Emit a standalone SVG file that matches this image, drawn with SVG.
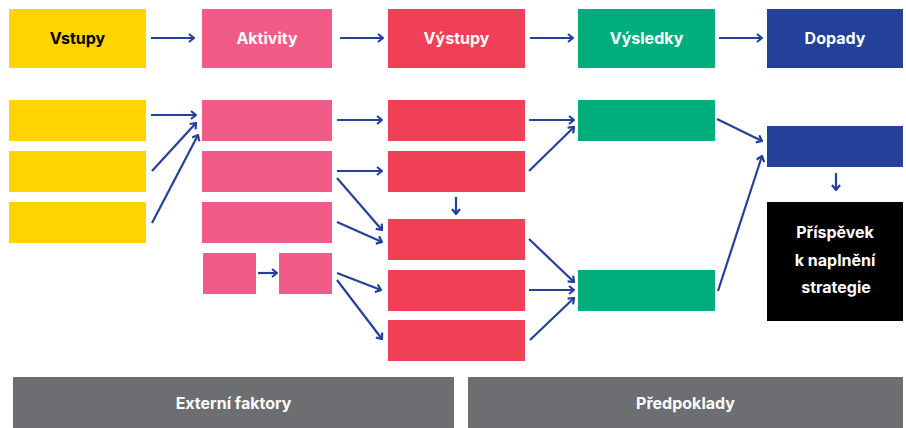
<svg xmlns="http://www.w3.org/2000/svg" width="906" height="428" viewBox="0 0 906 428">
<style>
.t{font-family:Inter,"Open Sans","Liberation Sans",sans-serif;font-weight:700;font-size:16px;text-anchor:middle;fill:#fff}
.dk{fill:#000}
.y{fill:#FFD400}.p{fill:#F05B88}.r{fill:#EF4056}.g{fill:#00AE7D}.b{fill:#23409A}.k{fill:#000}.gr{fill:#6D6E71}
.c line{stroke:#23409A;stroke-width:2.2;fill:none;marker-end:url(#ah)}
</style>
<defs>
<marker id="ah" viewBox="0 0 10 10" refX="9" refY="5" markerWidth="10" markerHeight="10" markerUnits="userSpaceOnUse" orient="auto">
<path d="M4,1 L9,5 L4,9" fill="none" stroke="#23409A" stroke-width="2.2"/>
</marker>
</defs>
<g id="vstupy"><rect class="y" x="9" y="9" width="137" height="59"/><text class="t dk" x="77.5" y="44">Vstupy</text></g>
<g id="aktivity"><rect class="p" x="202" y="9" width="130" height="59"/><text class="t" x="267" y="44">Aktivity</text></g>
<g id="vystupy"><rect class="r" x="388" y="9" width="137" height="59"/><text class="t" x="456.5" y="44">Výstupy</text></g>
<g id="vysledky"><rect class="g" x="578" y="9" width="137" height="59"/><text class="t" x="646.5" y="44">Výsledky</text></g>
<g id="dopady"><rect class="b" x="767" y="9" width="136" height="59"/><text class="t" x="835" y="44">Dopady</text></g>
<g id="y1"><rect class="y" x="9" y="100" width="137" height="41"/></g>
<g id="y2"><rect class="y" x="9" y="151" width="137" height="41"/></g>
<g id="y3"><rect class="y" x="9" y="202" width="137" height="41"/></g>
<g id="a1"><rect class="p" x="202" y="100" width="130" height="41"/></g>
<g id="a2"><rect class="p" x="202" y="151" width="130" height="41"/></g>
<g id="a3"><rect class="p" x="202" y="202" width="130" height="41"/></g>
<g id="a4"><rect class="p" x="203" y="253" width="53" height="41"/></g>
<g id="a5"><rect class="p" x="279" y="253" width="53" height="41"/></g>
<g id="v1"><rect class="r" x="388" y="100" width="137" height="41"/></g>
<g id="v2"><rect class="r" x="388" y="151" width="137" height="41"/></g>
<g id="v3"><rect class="r" x="388" y="219" width="137" height="41"/></g>
<g id="v4"><rect class="r" x="388" y="270" width="137" height="41"/></g>
<g id="v5"><rect class="r" x="388" y="320" width="137" height="41"/></g>
<g id="s1"><rect class="g" x="578" y="100" width="137" height="41"/></g>
<g id="s2"><rect class="g" x="578" y="270" width="137" height="41"/></g>
<g id="d1"><rect class="b" x="767" y="126" width="136" height="41"/></g>
<g id="prispevek"><rect class="k" x="767" y="202" width="136" height="119"/>
<text class="t" x="835" y="238">Příspěvek</text><text class="t" x="835" y="266">k naplnění</text><text class="t" x="836" y="293">strategie</text></g>
<g id="externi"><rect class="gr" x="13" y="377" width="441" height="51"/><text class="t" x="233.5" y="409">Externí faktory</text></g>
<g id="predpoklady"><rect class="gr" x="468" y="377" width="435" height="51"/><text class="t" x="685.5" y="409">Předpoklady</text></g>
<g class="c" id="connectors">
<line x1="151" y1="38" x2="194" y2="38"/>
<line x1="340" y1="38" x2="383" y2="38"/>
<line x1="530" y1="38" x2="573" y2="38"/>
<line x1="719" y1="38" x2="762" y2="38"/>
<line x1="151" y1="115" x2="196" y2="115"/>
<line x1="152" y1="171" x2="196" y2="123"/>
<line x1="152" y1="223" x2="198" y2="135"/>
<line x1="337" y1="120" x2="382" y2="120"/>
<line x1="337" y1="171" x2="382" y2="171"/>
<line x1="337" y1="178" x2="382" y2="230"/>
<line x1="337" y1="222" x2="382" y2="242"/>
<line x1="456" y1="197" x2="456" y2="214"/>
<line x1="258" y1="273" x2="277" y2="273"/>
<line x1="337" y1="273" x2="381" y2="290"/>
<line x1="337" y1="280" x2="382" y2="339"/>
<line x1="529" y1="120" x2="574" y2="120"/>
<line x1="529" y1="171" x2="574" y2="127"/>
<line x1="529" y1="239" x2="574" y2="282"/>
<line x1="529" y1="290" x2="574" y2="290"/>
<line x1="530" y1="340" x2="574" y2="298"/>
<line x1="717" y1="119" x2="762" y2="141"/>
<line x1="718" y1="291" x2="762" y2="156"/>
<line x1="836" y1="173" x2="836" y2="190"/>
</g>
</svg>
